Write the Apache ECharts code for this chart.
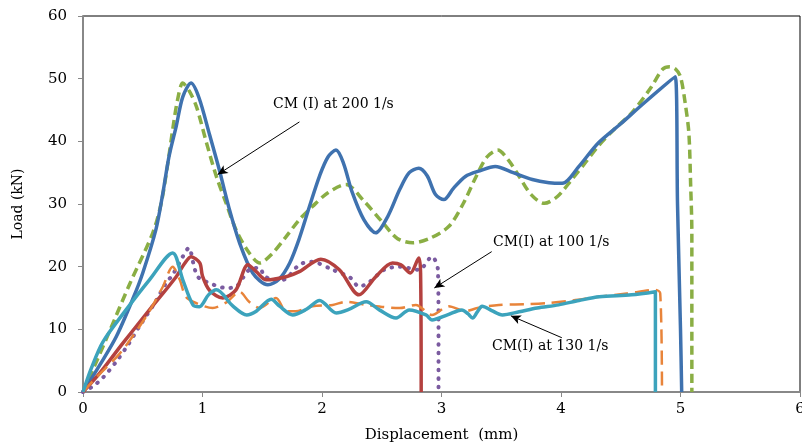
<!DOCTYPE html>
<html><head><meta charset="utf-8">
<script src="https://cdn.jsdelivr.net/npm/echarts@6/dist/echarts.min.js"></script>
<style>html,body{margin:0;padding:0;background:#fff}#c{width:802px;height:444px}</style>
</head><body><div id="c"></div>
<script>
const xTicks = [0,1,2,3,4,5,6];
const yTicks = [0,10,20,30,40,50,60];
const cm200a = [[0,0],[0.15,4.6],[0.28,8.9],[0.42,15.0],[0.5,19],[0.61,25.9],[0.668,31.7],[0.72,37.6],[0.78,42.4],[0.835,47.1],[0.904,49.3],[0.97,47],[1.06,41],[1.14,35.5],[1.22,29.5],[1.31,23.8],[1.42,19],[1.547,17.1],[1.64,18],[1.73,20.6],[1.81,24.5],[1.895,29.6],[1.98,34.5],[2.05,37.5],[2.117,38.6],[2.18,36.5],[2.25,32],[2.35,27.5],[2.45,25.4],[2.55,28],[2.65,32.3],[2.73,35],[2.81,35.7],[2.88,34.5],[2.95,31.5],[3.02,30.7],[3.1,32.5],[3.2,34.4],[3.32,35.3],[3.45,36.0],[3.6,35],[3.76,33.9],[3.9,33.4],[4.01,33.3],[4.15,36],[4.31,39.7],[4.5,42.8],[4.7,46.2],[4.956,50.3],[4.975,30],[5.0,10],[5.01,0]];
const cm200b = [[0,0],[0.1,4.3],[0.22,9.6],[0.39,17.2],[0.584,25.4],[0.654,30.1],[0.71,36.5],[0.75,41.8],[0.79,46.5],[0.835,49.3],[0.89,48],[0.95,45.5],[1.03,40],[1.116,34.4],[1.2,30],[1.28,25.9],[1.38,22.5],[1.48,20.6],[1.58,22],[1.70,24.8],[1.81,27.5],[1.92,29.6],[2.05,31.8],[2.2,33.1],[2.35,30.5],[2.51,27],[2.63,24.5],[2.76,23.8],[2.9,24.5],[3.06,26.4],[3.18,30],[3.29,34.4],[3.38,37.5],[3.47,38.6],[3.56,37],[3.65,34.4],[3.75,31.5],[3.86,30.1],[3.97,31.2],[4.09,33.9],[4.2,36.5],[4.31,39.2],[4.45,42],[4.59,44.5],[4.75,48.5],[4.85,51.5],[4.91,51.9],[4.96,51.5],[5.0,50.3],[5.04,46],[5.07,41.3],[5.085,33],[5.095,25.4],[5.095,0]];
const cm100a = [[0,0],[0.14,3.0],[0.334,7.8],[0.556,13.1],[0.78,18.4],[0.85,20.5],[0.904,21.6],[0.977,20.6],[1.0,18.5],[1.06,16.2],[1.17,15.0],[1.28,16.3],[1.38,20.3],[1.45,19.2],[1.533,17.9],[1.70,18.4],[1.81,19.2],[1.99,21.2],[2.145,19.5],[2.31,15.5],[2.45,18.4],[2.59,20.6],[2.66,20.3],[2.74,19.0],[2.81,21.4],[2.825,19],[2.83,0]];
const cm100b = [[0,0],[0.083,0.9],[0.167,2.3],[0.28,4.9],[0.376,7.5],[0.473,10.5],[0.61,14.5],[0.695,17.4],[0.75,18.7],[0.835,21.6],[0.885,23.0],[0.93,20.0],[0.96,18.4],[1.03,17.6],[1.2,16.6],[1.28,16.8],[1.39,19.5],[1.48,19.8],[1.52,18.4],[1.67,17.9],[1.81,20.3],[1.91,20.8],[2.09,19.5],[2.24,18.2],[2.31,16.8],[2.40,17.6],[2.52,19.5],[2.65,20.0],[2.81,19.5],[2.92,21.6],[2.97,19.5],[2.975,10],[2.975,0]];
const cm130a = [[0,0],[0.07,3.8],[0.167,8.0],[0.36,13.1],[0.556,17.9],[0.75,22.2],[0.835,17.9],[0.92,13.9],[0.974,13.6],[1.05,15.5],[1.116,16.3],[1.255,13.7],[1.37,12.3],[1.45,12.9],[1.575,14.8],[1.645,13.7],[1.755,12.3],[1.87,13.2],[1.98,14.6],[2.12,12.6],[2.215,13.1],[2.37,14.4],[2.48,13.1],[2.62,11.8],[2.73,13.1],[2.87,12.3],[2.92,11.5],[3.05,12.3],[3.17,13.1],[3.22,12.5],[3.26,11.8],[3.3,12.8],[3.34,13.7],[3.42,13],[3.51,12.3],[3.65,12.8],[3.8,13.4],[3.98,13.9],[4.15,14.6],[4.32,15.2],[4.59,15.5],[4.79,16.0],[4.79,0]];
const cm130b = [[0,0],[0.12,2.5],[0.31,6.2],[0.53,12.1],[0.668,16.8],[0.75,20.0],[0.81,17.9],[0.86,15.2],[0.946,14.2],[1.085,13.4],[1.2,14.3],[1.31,16.0],[1.39,14.4],[1.48,13.4],[1.615,15.0],[1.70,12.9],[1.78,12.9],[1.92,13.7],[2.09,13.9],[2.20,14.4],[2.37,13.9],[2.65,13.4],[2.785,13.9],[2.92,12.3],[3.06,13.7],[3.20,12.9],[3.3,13.4],[3.48,13.9],[3.7,14.0],[3.90,14.2],[4.1,14.6],[4.32,15.2],[4.55,15.7],[4.79,16.3],[4.83,15.8],[4.845,0]];
const labels = ['CM (I) at 200 1/s','CM(I) at 100 1/s','CM(I) at 130 1/s'];
const arrows = [[[1.811,43.1],[1.127,34.7]],[[3.42,22.4],[2.94,16.6]],[[4.007,8.66],[3.58,12.17]]];
const labelPos = [[273,97],[493,235],[492,339]];

const FONT = '"DejaVu Serif",serif';
const chart = echarts.init(document.getElementById('c'));
function line(data, color, width, type, z, cap){
  return {type:'line', data:data, showSymbol:false, smooth:0.3, z:z,
    lineStyle:{color:color, width:width, type:type, cap:cap||'butt', join:'round'}, animation:false};
}
chart.setOption({
  animation:false,
  grid:{left:83, right:2, top:16, bottom:52, containLabel:false, outerBoundsMode:'none',
    show:true, borderColor:'#000', borderWidth:1},
  xAxis:{type:'value', min:0, max:6, interval:1,
    name:'Displacement  (mm)', nameLocation:'middle', nameGap:36,
    nameTextStyle:{fontFamily:FONT, fontSize:15, color:'#000'},
    axisLine:{lineStyle:{color:'#888', width:2}}, axisTick:{show:true, length:5, lineStyle:{color:'#888'}},
    axisLabel:{fontFamily:FONT, fontSize:15, color:'#000', margin:10}, splitLine:{show:false}},
  yAxis:{type:'value', min:0, max:60, interval:10,
    name:'Load (kN)', nameLocation:'middle', nameGap:58, nameRotate:90,
    nameTextStyle:{fontFamily:FONT, fontSize:14, color:'#000'},
    axisLine:{show:true, lineStyle:{color:'#888', width:2}}, axisTick:{show:true, length:5, lineStyle:{color:'#888'}},
    axisLabel:{fontFamily:FONT, fontSize:15, color:'#000', margin:16}, splitLine:{show:false}},
  series:[
    line(cm200b, '#8AAE44', 3.5, [9,5], 2),
    line(cm200a, '#3F72AF', 3.5, 'solid', 3),
    line(cm100b, '#7B5BA0', 4, [0.5,8], 4, 'round'),
    line(cm100a, '#B4413F', 3.5, 'solid', 5),
    line(cm130b, '#E8843A', 2.5, [14,7], 6),
    line(cm130a, '#3CA3BC', 3.5, 'solid', 7),
    {type:'line', data:[], z:10, markLine:{silent:true, animation:false,
      symbol:['none','arrow'], symbolSize:[7,10],
      lineStyle:{color:'#000', width:1, type:'solid'}, label:{show:false},
      data: arrows.map(a=>[{coord:a[0]},{coord:a[1]}])}}
  ],
  graphic: labels.map((t,i)=>({type:'text', left:labelPos[i][0], top:labelPos[i][1], z:20,
    style:{text:t, fontFamily:FONT, fontSize:14, fill:'#000'}}))
});
</script></body></html>
